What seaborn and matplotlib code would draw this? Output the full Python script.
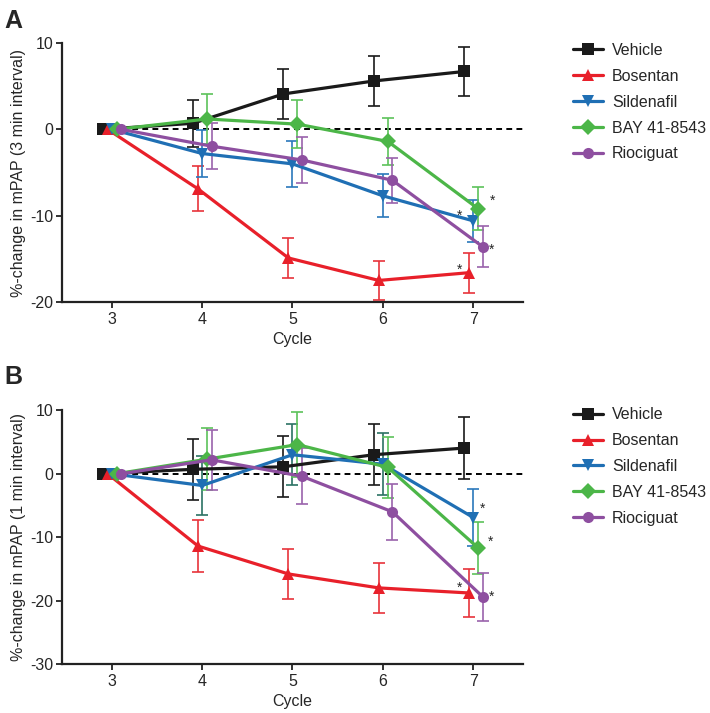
import numpy as np
import pandas as pd
import matplotlib
matplotlib.use('Agg')
import matplotlib.pyplot as plt
import seaborn as sns

# ---- data ----
cycles = [3, 4, 5, 6, 7]
drugs = ['Vehicle', 'Bosentan', 'Sildenafil', 'BAY 41-8543', 'Riociguat']

# panel A: 3 min interval
a_vehicle = [0, 0.7, 4.1, 5.6, 6.7]
a_vehicle_sem = [0, 2.7, 2.9, 2.85, 2.85]
a_bosentan = [0, -6.9, -14.9, -17.5, -16.6]
a_bosentan_sem = [0, 2.6, 2.35, 2.3, 2.3]
a_sildenafil = [0, -2.8, -4.0, -7.7, -10.6]
a_sildenafil_sem = [0, 2.7, 2.65, 2.5, 2.4]
a_bay = [0, 1.2, 0.6, -1.4, -9.2]
a_bay_sem = [0, 2.85, 2.8, 2.75, 2.5]
a_riociguat = [0, -1.95, -3.55, -5.9, -13.6]
a_riociguat_sem = [0, 2.65, 2.7, 2.6, 2.4]

# panel B: 1 min interval
b_vehicle = [0, 0.7, 1.1, 3.0, 4.05]
b_vehicle_sem = [0, 4.8, 4.8, 4.8, 4.85]
b_bosentan = [0, -11.4, -15.8, -18.0, -18.8]
b_bosentan_sem = [0, 4.15, 4.0, 3.9, 3.85]
b_sildenafil = [0, -1.85, 3.0, 1.5, -6.9]
b_sildenafil_sem = [0, 4.6, 4.85, 4.9, 4.5]
b_bay = [0, 2.3, 4.6, 1.0, -11.7]
b_bay_sem = [0, 4.9, 5.1, 4.8, 4.1]
b_riociguat = [0, 2.2, -0.4, -6.0, -19.4]
b_riociguat_sem = [0, 4.75, 4.4, 4.4, 3.8]

# significance marks at cycle 7: (drug, dx px, dy px)
a_stars = [('Bosentan', -10, -1), ('Sildenafil', -14, 1), ('BAY 41-8543', 14, 4), ('Riociguat', 9, -7)]
b_stars = [('Sildenafil', 9, 5), ('BAY 41-8543', 12, 2), ('Riociguat', 9, -4), ('Bosentan', -10, 1)]

palette = {'Vehicle': '#1a1a1a', 'Bosentan': '#e8202a', 'Sildenafil': '#1f6fb4',
           'BAY 41-8543': '#4cb648', 'Riociguat': '#8e4fa0'}
err_colors = {'Vehicle': '#1a1a1a', 'Bosentan': '#e8333b', 'Sildenafil': '#2a78bb',
              'BAY 41-8543': '#5cc25a', 'Riociguat': '#9a62ab'}
# in panel B the Sildenafil bars at cycles 4-6 print dark teal
b_sild_overlap_color = '#2b7263'
b_sild_overlap_cycles = [4, 5, 6]
markers = {'Vehicle': 's', 'Bosentan': '^', 'Sildenafil': 'v', 'BAY 41-8543': 'D', 'Riociguat': 'o'}
offsets = {'Vehicle': -0.1, 'Bosentan': -0.045, 'Sildenafil': 0.0, 'BAY 41-8543': 0.055, 'Riociguat': 0.105}


def make_df(vals, sems):
    rows = []
    for drug, v, s in zip(drugs, vals, sems):
        for c, vi, si in zip(cycles, v, s):
            rows.append({'drug': drug, 'cycle': c, 'x': c + offsets[drug], 'value': vi, 'sem': si})
    return pd.DataFrame(rows)


df_a = make_df([a_vehicle, a_bosentan, a_sildenafil, a_bay, a_riociguat],
               [a_vehicle_sem, a_bosentan_sem, a_sildenafil_sem, a_bay_sem, a_riociguat_sem])
df_b = make_df([b_vehicle, b_bosentan, b_sildenafil, b_bay, b_riociguat],
               [b_vehicle_sem, b_bosentan_sem, b_sildenafil_sem, b_bay_sem, b_riociguat_sem])

sns.set_style('ticks')
plt.rcParams['font.family'] = ['Liberation Sans', 'DejaVu Sans']
plt.rcParams['font.size'] = 10.5
plt.rcParams['axes.unicode_minus'] = False

fig = plt.figure(figsize=(7.1, 7.13), dpi=100)
ax_a = fig.add_axes([0.0873, 0.5764, 0.6493, 0.3633])
ax_b = fig.add_axes([0.0873, 0.0687, 0.6493, 0.3558])


def draw_panel(ax, df, ylim, yticks, ylabel, stars, legend_y, overlap=None):
    ax.plot([3, 7.55], [0, 0], color='black', lw=1.4, ls=(0, (3, 2.2)), zorder=1)
    for drug in drugs:
        d = df[(df['drug'] == drug) & (df['sem'] > 0)]
        for _, r in d.iterrows():
            col = err_colors[drug]
            if overlap and drug == overlap[0] and r['cycle'] in overlap[1]:
                col = overlap[2]
            ax.errorbar(r['x'], r['value'], yerr=r['sem'], fmt='none', ecolor=col,
                        elinewidth=1.2, capsize=4.5, capthick=1.2, zorder=2)
    sns.lineplot(data=df, x='x', y='value', hue='drug', style='drug', hue_order=drugs,
                 style_order=drugs, palette=palette, markers=markers, dashes=False,
                 linewidth=2.3, markersize=8, markeredgewidth=0, errorbar=None,
                 ax=ax, zorder=3)
    for drug, dx, dy in stars:
        row = df[(df['drug'] == drug) & (df['cycle'] == 7)].iloc[0]
        ax.annotate('*', (row['x'], row['value']), xytext=(dx, dy), textcoords='offset pixels',
                    ha='center', va='baseline', fontsize=10)
    ax.set_xlim(2.45, 7.55)
    ax.set_ylim(*ylim)
    ax.set_xticks(cycles)
    ax.set_yticks(yticks)
    ax.set_xlabel('Cycle', fontsize=11.5, labelpad=3.5)
    ax.set_ylabel(ylabel, fontsize=11.5, labelpad=3)
    ax.tick_params(axis='both', labelsize=11.5, width=1.3, length=4.5, color='#222222')
    ax.tick_params(axis='y', pad=1.5)
    ax.tick_params(axis='x', pad=3)
    sns.despine(ax=ax)
    for sp in ['left', 'bottom']:
        ax.spines[sp].set_linewidth(1.6)
        ax.spines[sp].set_color('#222222')
    sns.move_legend(ax, 'upper left', bbox_to_anchor=(1.108, legend_y), frameon=False,
                    title=None, fontsize=11.5, borderpad=0, borderaxespad=0,
                    handlelength=1.9, handletextpad=0.55, labelspacing=0.68)


draw_panel(ax_a, df_a, (-20, 10), [-20, -10, 0, 10], '%-change in mPAP (3 min interval)', a_stars, 1.0)
draw_panel(ax_b, df_b, (-30, 10), [-30, -20, -10, 0, 10], '%-change in mPAP (1 min interval)', b_stars,
           1.012, overlap=('Sildenafil', b_sild_overlap_cycles, b_sild_overlap_color))

fig.text(0.006, 0.988, 'A', fontsize=18, fontweight='bold', va='top', ha='left')
fig.text(0.006, 0.488, 'B', fontsize=18, fontweight='bold', va='top', ha='left')

plt.savefig('out.png', dpi=100)
plt.close()
